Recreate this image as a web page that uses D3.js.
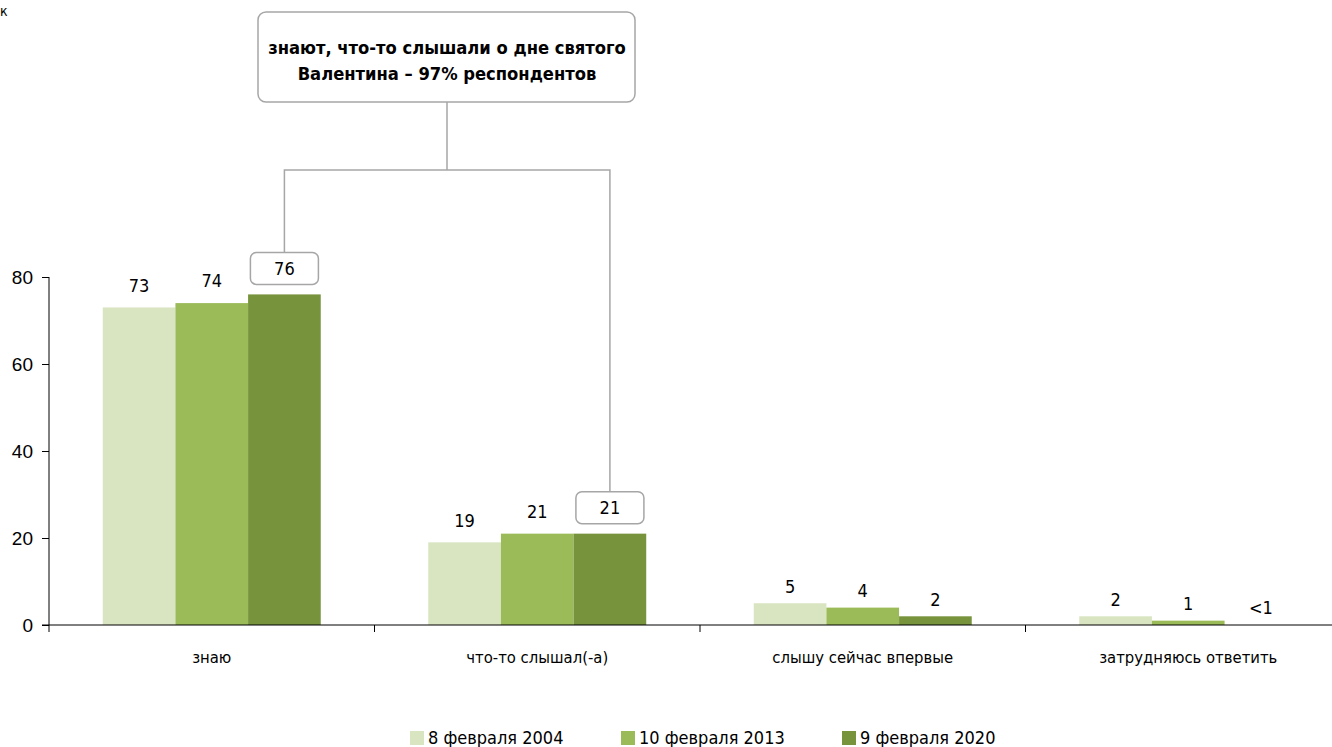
<!DOCTYPE html>
<html><head><meta charset="utf-8">
<script src="https://cdn.jsdelivr.net/npm/d3@7"></script>
<style>
html,body{margin:0;padding:0;background:#fff;}
svg{display:block;font-family:"Liberation Sans Narrow","DejaVu Sans Condensed","Roboto",sans-serif;}
</style></head>
<body>
<svg id="c" width="1332" height="747"></svg>
<script>
const categories = ["знаю", "что-то слышал(-а)", "слышу сейчас впервые", "затрудняюсь ответить"];
const seriesNames = ["8 февраля 2004", "10 февраля 2013", "9 февраля 2020"];
const seriesColors = ["#d9e4c1", "#9bbb59", "#77933c"];
const values2004 = [73, 19, 5, 2];
const values2013 = [74, 21, 4, 1];
const values2020 = [76, 21, 2, 0];
const labels2004 = ["73", "19", "5", "2"];
const labels2013 = ["74", "21", "4", "1"];
const labels2020 = ["76", "21", "2", "<1"];
const yTicks = [0, 20, 40, 60, 80];
const calloutLines = ["знают, что-то слышали о дне святого", "Валентина – 97% респондентов"];

const series = [values2004, values2013, values2020];
const seriesLabels = [labels2004, labels2013, labels2020];

const svg = d3.select("#c");
const y = d3.scaleLinear().domain([0, 80]).range([625, 277]);
const x0 = d3.scaleBand().domain(categories).range([49, 49 + 4 * 325.5]).padding(0);
const x1 = d3.scaleBand().domain(d3.range(3)).range([0, x0.bandwidth()]).paddingInner(0).paddingOuter(0.74);

// corner text fragment
svg.append("text").attr("x", 0).attr("y", 16).attr("font-size", 14).attr("fill", "#000").text("к");

// bars
categories.forEach((c, ci) => {
  series.forEach((s, si) => {
    svg.append("rect")
      .attr("x", x0(c) + x1(si))
      .attr("y", y(s[ci]))
      .attr("width", x1.bandwidth())
      .attr("height", y(0) - y(s[ci]))
      .attr("fill", seriesColors[si]);
  });
});

// axes
const yAxis = d3.axisLeft(y).tickValues(yTicks).tickSize(7).tickSizeOuter(0);
const gy = svg.append("g").attr("transform", "translate(49,0)").call(yAxis);
gy.select(".domain").attr("d", "M0,277V632");
gy.selectAll("text").attr("font-size", 19).attr("fill", "#000").attr("x", -16).attr("dy", "0.34em");
gy.selectAll("line").attr("stroke", "#000");

svg.append("line").attr("x1", 42).attr("x2", 1332).attr("y1", y(0)).attr("y2", y(0)).attr("stroke", "#000");
categories.forEach((c, ci) => {
  if (ci > 0) svg.append("line").attr("x1", x0(c)).attr("x2", x0(c)).attr("y1", y(0)).attr("y2", y(0) + 7).attr("stroke", "#000");
  svg.append("text").attr("x", x0(c) + x0.bandwidth() / 2).attr("y", 663)
    .attr("text-anchor", "middle").attr("font-size", 16.5).attr("fill", "#000").text(c);
});

// value labels
categories.forEach((c, ci) => {
  series.forEach((s, si) => {
    const cx = x0(c) + x1(si) + x1.bandwidth() / 2;
    const top = y(s[ci]);
    const boxed = si === 2 && ci < 2;
    if (boxed) {
      svg.append("rect").attr("x", cx - 34).attr("y", top - 42).attr("width", 68).attr("height", 32)
        .attr("rx", 6).attr("fill", "#fff").attr("stroke", "#a6a6a6").attr("stroke-width", 1.5);
      svg.append("text").attr("x", cx).attr("y", top - 26).attr("dy", "0.35em")
        .attr("text-anchor", "middle").attr("font-size", 18).attr("fill", "#000").text(seriesLabels[si][ci]);
    } else {
      const off = s[ci] < 10 ? 17 : 22;
      svg.append("text").attr("x", cx).attr("y", top - off).attr("dy", "0.35em")
        .attr("text-anchor", "middle").attr("font-size", 18).attr("fill", "#000").text(seriesLabels[si][ci]);
    }
  });
});

// connectors
const cxA = x0(categories[0]) + x1(2) + x1.bandwidth() / 2;
const cxB = x0(categories[1]) + x1(2) + x1.bandwidth() / 2;
const topA = y(values2020[0]) - 42;
const topB = y(values2020[1]) - 42;
const midX = 447;
svg.append("path")
  .attr("d", `M${cxA},${topA}V170H${cxB}V${topB}M${midX},170V102`)
  .attr("fill", "none").attr("stroke", "#a6a6a6").attr("stroke-width", 1.5);

// callout box
svg.append("rect").attr("x", 258).attr("y", 12).attr("width", 377).attr("height", 90).attr("rx", 8)
  .attr("fill", "#fff").attr("stroke", "#a6a6a6").attr("stroke-width", 1.5);
calloutLines.forEach((t, i) => {
  svg.append("text").attr("x", midX).attr("y", 48 + i * 26).attr("dy", "0.35em")
    .attr("text-anchor", "middle").attr("font-size", 18.2).attr("font-weight", "bold").attr("fill", "#000").text(t);
});

// legend
const legendX = [410, 621, 842];
seriesNames.forEach((n, i) => {
  svg.append("rect").attr("x", legendX[i]).attr("y", 731).attr("width", 14).attr("height", 14).attr("fill", seriesColors[i]);
  svg.append("text").attr("x", legendX[i] + 18).attr("y", 738).attr("dy", "0.35em")
    .attr("font-size", 18).attr("fill", "#000").text(n);
});
</script>
</body></html>
